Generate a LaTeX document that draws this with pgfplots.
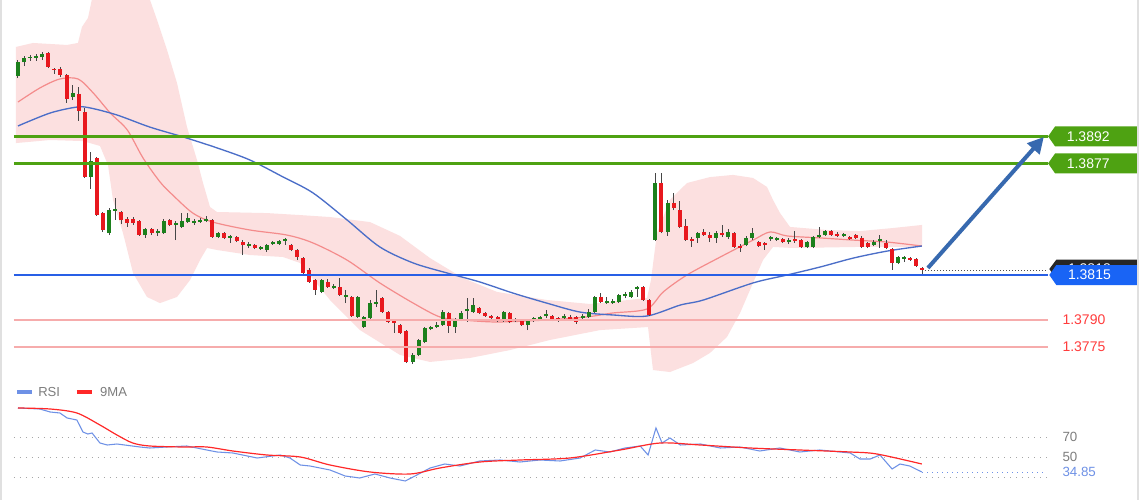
\documentclass[border=0pt]{standalone}
\usepackage{fontspec}
\setmainfont{Liberation Sans}
\usepackage{pgfplots}
\pgfplotsset{compat=1.18}
\usepackage{pgfplotstable}
\usetikzlibrary{arrows.meta}

\definecolor{cgreen}{RGB}{28,128,28}
\definecolor{cred}{RGB}{232,24,30}
\definecolor{wick}{RGB}{70,70,70}
\definecolor{bandpink}{RGB}{252,224,224}
\definecolor{maRed}{RGB}{244,140,140}
\definecolor{maBlue}{RGB}{75,110,200}
\definecolor{lvlGreen}{RGB}{78,162,18}
\definecolor{lvlBlue}{RGB}{40,95,230}
\definecolor{lvlPink}{RGB}{246,172,172}
\definecolor{lblRed}{RGB}{255,60,60}
\definecolor{arrowBlue}{RGB}{55,105,175}
\definecolor{rsiBlue}{RGB}{110,145,230}
\definecolor{rsiRed}{RGB}{255,40,40}
\definecolor{txtGray}{RGB}{125,125,125}
\definecolor{lblBlue}{RGB}{25,100,245}

% candles: index, open, high, low, close (prices)
\pgfplotstableread{
i o h l c
0 1.39256 1.39344 1.39244 1.39333
1 1.39333 1.39367 1.39311 1.39356
2 1.39356 1.39372 1.39339 1.39361
3 1.39356 1.39378 1.39339 1.39367
4 1.39361 1.39389 1.39344 1.39378
5 1.39383 1.39389 1.39300 1.39306
6 1.39294 1.39300 1.39267 1.39289
7 1.39294 1.39306 1.39250 1.39261
8 1.39261 1.39267 1.39106 1.39128
9 1.39139 1.39206 1.39122 1.39161
10 1.39156 1.39194 1.39006 1.39061
11 1.39056 1.39078 1.38689 1.38694
12 1.38694 1.38833 1.38628 1.38783
13 1.38800 1.38806 1.38478 1.38483
14 1.38494 1.38500 1.38389 1.38400
15 1.38383 1.38522 1.38372 1.38511
16 1.38506 1.38578 1.38456 1.38517
17 1.38500 1.38506 1.38433 1.38456
18 1.38461 1.38472 1.38417 1.38439
19 1.38461 1.38472 1.38428 1.38439
20 1.38450 1.38456 1.38367 1.38372
21 1.38372 1.38411 1.38356 1.38406
22 1.38406 1.38411 1.38372 1.38383
23 1.38383 1.38406 1.38367 1.38394
24 1.38383 1.38461 1.38378 1.38450
25 1.38456 1.38461 1.38422 1.38428
26 1.38428 1.38450 1.38344 1.38439
27 1.38417 1.38494 1.38411 1.38450
28 1.38444 1.38494 1.38439 1.38467
29 1.38439 1.38461 1.38428 1.38450
30 1.38444 1.38467 1.38439 1.38456
31 1.38450 1.38478 1.38444 1.38461
32 1.38456 1.38461 1.38356 1.38361
33 1.38361 1.38389 1.38356 1.38383
34 1.38383 1.38389 1.38350 1.38356
35 1.38356 1.38372 1.38328 1.38367
36 1.38361 1.38367 1.38333 1.38339
37 1.38333 1.38344 1.38261 1.38317
38 1.38311 1.38333 1.38300 1.38322
39 1.38317 1.38322 1.38294 1.38300
40 1.38294 1.38311 1.38289 1.38306
41 1.38289 1.38322 1.38278 1.38317
42 1.38322 1.38339 1.38317 1.38333
43 1.38322 1.38344 1.38317 1.38339
44 1.38339 1.38356 1.38317 1.38350
45 1.38317 1.38322 1.38283 1.38289
46 1.38289 1.38294 1.38233 1.38250
47 1.38244 1.38250 1.38150 1.38161
48 1.38178 1.38189 1.38106 1.38111
49 1.38122 1.38128 1.38039 1.38067
50 1.38056 1.38128 1.38050 1.38122
51 1.38111 1.38128 1.38078 1.38083
52 1.38078 1.38100 1.38072 1.38089
53 1.38083 1.38133 1.38033 1.38039
54 1.38028 1.38067 1.37994 1.38039
55 1.38028 1.38033 1.37917 1.37922
56 1.37917 1.38033 1.37911 1.38028
57 1.37861 1.37922 1.37856 1.37917
58 1.37911 1.38011 1.37906 1.37994
59 1.37989 1.38067 1.37972 1.38000
60 1.38022 1.38028 1.37939 1.37944
61 1.37944 1.37950 1.37883 1.37889
62 1.37894 1.37900 1.37828 1.37883
63 1.37872 1.37878 1.37822 1.37828
64 1.37839 1.37844 1.37661 1.37667
65 1.37667 1.37717 1.37656 1.37706
66 1.37706 1.37794 1.37700 1.37789
67 1.37778 1.37861 1.37772 1.37856
68 1.37850 1.37867 1.37844 1.37861
69 1.37861 1.37889 1.37856 1.37872
70 1.37872 1.37956 1.37867 1.37944
71 1.37939 1.37944 1.37828 1.37867
72 1.37861 1.37911 1.37828 1.37900
73 1.37900 1.37950 1.37894 1.37939
74 1.37950 1.38022 1.37889 1.37961
75 1.37944 1.38022 1.37939 1.37983
76 1.37967 1.37972 1.37933 1.37939
77 1.37939 1.37944 1.37917 1.37922
78 1.37922 1.37928 1.37906 1.37911
79 1.37917 1.37922 1.37889 1.37900
80 1.37894 1.37950 1.37889 1.37944
81 1.37939 1.37944 1.37883 1.37889
82 1.37906 1.37911 1.37889 1.37894
83 1.37900 1.37906 1.37867 1.37872
84 1.37872 1.37900 1.37844 1.37894
85 1.37900 1.37917 1.37889 1.37911
86 1.37906 1.37922 1.37900 1.37917
87 1.37922 1.37956 1.37911 1.37933
88 1.37922 1.37928 1.37894 1.37900
89 1.37911 1.37917 1.37889 1.37894
90 1.37911 1.37933 1.37906 1.37922
91 1.37917 1.37928 1.37900 1.37906
92 1.37917 1.37922 1.37878 1.37889
93 1.37911 1.37933 1.37900 1.37922
94 1.37917 1.37961 1.37911 1.37944
95 1.37944 1.38033 1.37939 1.38028
96 1.38028 1.38050 1.37994 1.38000
97 1.37994 1.38028 1.37989 1.38006
98 1.37994 1.38017 1.37989 1.38006
99 1.38000 1.38044 1.37994 1.38039
100 1.38033 1.38056 1.38022 1.38044
101 1.38028 1.38067 1.38022 1.38056
102 1.38072 1.38089 1.38028 1.38083
103 1.38083 1.38089 1.38006 1.38011
104 1.38011 1.38017 1.37922 1.37928
105 1.38344 1.38717 1.38339 1.38661
106 1.38661 1.38717 1.38383 1.38389
107 1.38389 1.38567 1.38367 1.38550
108 1.38550 1.38606 1.38511 1.38522
109 1.38511 1.38561 1.38411 1.38417
110 1.38422 1.38461 1.38339 1.38344
111 1.38350 1.38361 1.38306 1.38339
112 1.38356 1.38389 1.38328 1.38383
113 1.38389 1.38406 1.38367 1.38372
114 1.38372 1.38389 1.38333 1.38356
115 1.38356 1.38394 1.38328 1.38383
116 1.38383 1.38428 1.38361 1.38372
117 1.38361 1.38406 1.38350 1.38389
118 1.38383 1.38389 1.38300 1.38306
119 1.38311 1.38322 1.38278 1.38300
120 1.38317 1.38367 1.38311 1.38356
121 1.38356 1.38411 1.38344 1.38383
122 1.38333 1.38339 1.38306 1.38311
123 1.38328 1.38333 1.38289 1.38317
124 1.38350 1.38367 1.38339 1.38361
125 1.38344 1.38361 1.38339 1.38356
126 1.38350 1.38356 1.38328 1.38333
127 1.38333 1.38356 1.38322 1.38344
128 1.38350 1.38394 1.38328 1.38339
129 1.38344 1.38350 1.38300 1.38306
130 1.38306 1.38339 1.38300 1.38333
131 1.38306 1.38367 1.38300 1.38361
132 1.38361 1.38417 1.38356 1.38372
133 1.38372 1.38400 1.38367 1.38394
134 1.38394 1.38400 1.38367 1.38372
135 1.38378 1.38389 1.38361 1.38367
136 1.38367 1.38383 1.38361 1.38378
137 1.38361 1.38367 1.38344 1.38350
138 1.38372 1.38378 1.38350 1.38356
139 1.38356 1.38367 1.38300 1.38306
140 1.38328 1.38333 1.38300 1.38306
141 1.38317 1.38344 1.38311 1.38333
142 1.38339 1.38372 1.38300 1.38350
143 1.38328 1.38344 1.38294 1.38300
144 1.38294 1.38300 1.38178 1.38217
145 1.38217 1.38256 1.38211 1.38250
146 1.38239 1.38256 1.38222 1.38250
147 1.38244 1.38250 1.38228 1.38233
148 1.38239 1.38244 1.38194 1.38200
149 1.38189 1.38194 1.38150 1.38178
}\candles

\begin{document}
\begin{tikzpicture}
\fill[white] (0,0) rectangle (855pt,375pt);
\path[use as bounding box] (0,0) rectangle (855pt,375pt);

% ---------------- main price panel (plotted as pips above 1.3800) ----------------
\begin{axis}[at={(0pt,91.5pt)}, anchor=south west, scale only axis,
  width=855pt, height=283.5pt,
  xmin=-2.965, xmax=184.84, ymin=-42.22, ymax=167.78,
  y filter/.expression={(y-1.38)*10000},
  axis lines=none, enlargelimits=false]

% envelope band (upper edge left to right, then lower edge right to left)
\addplot[fill=bandpink, draw=none, forget plot] coordinates {
(-0.33,1.39417) (2.47,1.39439) (8.07,1.39428) (9.88,1.39439) (10.54,1.39528) (11.53,1.39578)
(12.85,1.39789) (20.59,1.39789) (21.75,1.39678) (22.9,1.39567) (24.55,1.39400) (26.19,1.39217)
(27.84,1.38972) (29.49,1.38789) (30.48,1.38661) (31.63,1.38528) (32.78,1.38500) (41.02,1.38494)
(46.46,1.38483) (51.4,1.38472) (57.99,1.38444) (62.93,1.38367) (67.87,1.38244) (73.31,1.38133)
(78.91,1.38056) (87.15,1.38011) (94.23,1.37989) (103.62,1.38022) (104.28,1.38122)
(105.27,1.38383) (107.41,1.38567) (110.21,1.38661) (114,1.38694) (117.79,1.38706)
(121.09,1.38689) (123.39,1.38639) (124.38,1.38567) (125.54,1.38494) (127.18,1.38417)
(133.28,1.38400) (138.71,1.38394) (144.15,1.38411) (148.93,1.38428)
(148.93,1.38306) (138.71,1.38306) (127.68,1.38300) (124.38,1.38306) (122.73,1.38233)
(121.09,1.38106) (118.95,1.37939) (116.8,1.37806) (114,1.37717) (111.2,1.37661)
(107.41,1.37611) (104.61,1.37622) (103.79,1.37861) (95.88,1.37844) (87.64,1.37789)
(81.05,1.37733) (74.46,1.37689) (67.87,1.37667) (62.93,1.37706) (56.34,1.37844)
(51.4,1.38011) (46.46,1.38217) (43.66,1.38250) (38.22,1.38261) (32.78,1.38289)
(31.14,1.38300) (29.98,1.38233) (28.34,1.38122) (26.19,1.38028) (23.39,1.37994)
(21.25,1.38028) (18.95,1.38161) (17.3,1.38383) (15.65,1.38567) (14.83,1.38761)
(13.51,1.38867) (10.71,1.38894) (5.27,1.38900) (-0.33,1.38883)};

% moving averages
\addplot[maRed, line width=0.9pt, smooth, forget plot] coordinates {
(0,1.39111) (3.6,1.39189) (6.9,1.39239) (9.9,1.39239) (12.4,1.39161) (15.2,1.39050)
(18,1.38956) (20.6,1.38800) (23.4,1.38667) (25.5,1.38594) (28.8,1.38494) (32.1,1.38444)
(38.2,1.38400) (44.3,1.38372) (48.6,1.38328) (54.2,1.38233) (59.6,1.38106) (65.1,1.37994)
(69.5,1.37917) (73.3,1.37900) (78.9,1.37889) (87.1,1.37900) (93.7,1.37917) (98,1.37939)
(103.6,1.37961) (106.3,1.38056) (110.2,1.38150) (115.7,1.38250) (121.1,1.38344)
(123.9,1.38389) (126.7,1.38367) (132.1,1.38356) (137.6,1.38344) (143.2,1.38333)
(148.9,1.38311)};
\addplot[maBlue, line width=1pt, smooth, forget plot] coordinates {
(0,1.38978) (5.3,1.39050) (9.7,1.39083) (11.9,1.39078) (16.3,1.39039) (21.7,1.38972)
(27.2,1.38917) (32.8,1.38856) (38.2,1.38789) (43.7,1.38694) (48.6,1.38606) (54.2,1.38456)
(59.6,1.38306) (65.1,1.38217) (70.7,1.38161) (76.1,1.38111) (81.5,1.38050) (87.1,1.37994)
(92.6,1.37944) (98,1.37928) (103.6,1.37922) (109.1,1.37983) (112.9,1.38011)
(121.1,1.38106) (126.7,1.38150) (132.1,1.38194) (137.6,1.38244) (143.2,1.38283)
(148.9,1.38311)};

% candles, one wick and one body per row of the table
\pgfplotsforeachungrouped \k in {0,...,149}{%
  \pgfplotstablegetelem{\k}{o}\of\candles \let\vo\pgfplotsretval
  \pgfplotstablegetelem{\k}{h}\of\candles \let\vh\pgfplotsretval
  \pgfplotstablegetelem{\k}{l}\of\candles \let\vl\pgfplotsretval
  \pgfplotstablegetelem{\k}{c}\of\candles \let\vc\pgfplotsretval
  \ifdim\vc pt<\vo pt \def\bodycol{cred}\else\def\bodycol{cgreen}\fi
  \edef\cmd{\noexpand\addplot[wick, line width=0.75pt, forget plot] coordinates {(\k,\vl) (\k,\vh)};
    \noexpand\addplot[\bodycol, line width=3pt, line cap=butt, forget plot] coordinates {(\k,\vo) (\k,\vc)};}%
  \cmd
}

% levels
\addplot[lvlGreen, line width=2.2pt, forget plot] coordinates {(-0.66,1.3892) (169.7,1.3892)};
\addplot[lvlGreen, line width=2.2pt, forget plot] coordinates {(-0.66,1.3877) (169.7,1.3877)};
\addplot[lvlBlue, line width=1.1pt, forget plot] coordinates {(-0.66,1.3815) (169.7,1.3815)};
\addplot[lvlPink, line width=1.4pt, forget plot] coordinates {(-0.66,1.3790) (169.7,1.3790)};
\addplot[lvlPink, line width=1.4pt, forget plot] coordinates {(-0.66,1.3775) (169.7,1.3775)};
\addplot[black!70, line width=0.6pt, dash pattern=on 0.75pt off 1.5pt, forget plot] coordinates {(149.5,1.38178) (169.7,1.38178)};

% arrow
\draw[arrowBlue, line width=3pt, -{Triangle[length=12pt,width=12pt]}]
  (axis cs:149.9,18.9) -- (axis cs:169.0,91.7);

% right labels
\fill[lvlGreen] (axis cs:169.7,92) -- ++(5.25pt,7.5pt) -- ++(61.5pt,0pt) -- ++(0pt,-15pt) -- ++(-61.5pt,0pt) -- cycle;
\node[anchor=west, xshift=10.5pt, text=white, font=\fontsize{10.5pt}{12pt}\selectfont] at (axis cs:169.7,92) {1.3892};
\fill[lvlGreen] (axis cs:169.7,77) -- ++(5.25pt,7.5pt) -- ++(61.5pt,0pt) -- ++(0pt,-15pt) -- ++(-61.5pt,0pt) -- cycle;
\node[anchor=west, xshift=10.5pt, text=white, font=\fontsize{10.5pt}{12pt}\selectfont] at (axis cs:169.7,77) {1.3877};
\fill[black!85] (axis cs:169.9,18.3) -- ++(5.25pt,7pt) -- ++(61.5pt,0pt) -- ++(0pt,-14pt) -- ++(-61.5pt,0pt) -- cycle;
\node[anchor=west, xshift=10.5pt, text=white, font=\fontsize{10.5pt}{12pt}\selectfont] at (axis cs:169.9,18.3) {1.3818};
\fill[lblBlue] (axis cs:169.9,15) -- ++(5.25pt,7.5pt) -- ++(61.5pt,0pt) -- ++(0pt,-15pt) -- ++(-61.5pt,0pt) -- cycle;
\node[anchor=west, xshift=10.5pt, text=white, font=\fontsize{10.5pt}{12pt}\selectfont] at (axis cs:169.9,15) {1.3815};
\node[anchor=west, text=lblRed, font=\fontsize{10.5pt}{12pt}\selectfont] at (axis cs:171.3,-10) {1.3790};
\node[anchor=west, text=lblRed, font=\fontsize{10.5pt}{12pt}\selectfont] at (axis cs:171.3,-25) {1.3775};
\end{axis}

% ---------------- RSI panel ----------------
\begin{axis}[at={(0pt,0pt)}, anchor=south west, scale only axis,
  width=855pt, height=91.5pt,
  xmin=-2.965, xmax=184.84, ymin=7, ymax=129,
  axis lines=none, enlargelimits=false]
\addplot[black!35, line width=0.6pt, dash pattern=on 0.75pt off 3.75pt, forget plot] coordinates {(-0.66,70) (169.5,70)};
\addplot[black!35, line width=0.6pt, dash pattern=on 0.75pt off 3.75pt, forget plot] coordinates {(-0.66,50) (169.5,50)};
\addplot[black!35, line width=0.6pt, dash pattern=on 0.75pt off 3.75pt, forget plot] coordinates {(-0.66,30) (169.5,30)};
\addplot[rsiBlue, line width=0.7pt, dash pattern=on 0.75pt off 3pt, forget plot] coordinates {(149,35) (169.5,35)};

\addplot[rsiBlue, line width=0.8pt, forget plot] coordinates {
(0,99) (3.6,98) (5.3,95) (6.9,94) (8.1,89) (9.7,87) (10.7,75) (11.5,73) (12.2,74)
(13.5,64) (14.7,62) (16.3,63) (20.1,60) (21.7,59) (24.5,60) (27.8,61) (31.1,57)
(32.8,55) (35.4,54) (39.4,49) (43.2,52) (44.8,49) (46.5,42) (48.1,41) (51.4,37)
(53.9,31) (56.3,29) (58.8,33) (61.3,29) (63.8,26) (65.4,31) (67.9,39) (70.3,43)
(72.8,41) (76.1,46) (79.4,47) (82.7,45) (86,47) (89.3,46) (92.6,49) (95.1,57)
(97.5,55) (100,59) (102.5,61) (103.8,52) (105.1,79) (106.1,64) (107.4,69) (109.1,62)
(112.4,63) (115.7,59) (118.9,60) (122.2,56) (125.5,59) (128.8,55) (132.1,57)
(135.4,55) (137.1,54) (138.7,48) (140.4,48) (142,52) (144,38) (145.3,43) (146.9,41)
(148.9,35)};
\addplot[rsiRed, line width=0.9pt, smooth, forget plot] coordinates {
(0,99) (5.3,98) (9.7,94) (13.5,82) (16.3,72) (18.9,64) (21.7,61) (27.2,60) (31.1,60)
(35.4,56) (41,52) (46.5,50) (51.4,42) (58,35) (64.6,33) (69.5,39) (76.1,45) (82.7,47)
(90.9,49) (99.2,57) (105.8,64) (112.4,62) (120.6,59) (128.8,57) (137.1,55) (141.5,53)
(148.9,43)};

\node[anchor=west, text=txtGray, font=\fontsize{10pt}{12pt}\selectfont] at (axis cs:171.3,70) {70};
\node[anchor=west, text=txtGray, font=\fontsize{10pt}{12pt}\selectfont] at (axis cs:171.3,50) {50};
\node[anchor=west, text=rsiBlue, font=\fontsize{10pt}{12pt}\selectfont] at (axis cs:171.3,35) {34.85};

\draw[rsiBlue, line width=3.2pt] (axis cs:-0.16,115) -- (axis cs:2.31,115);
\node[anchor=west, text=txtGray, font=\fontsize{9.8pt}{11pt}\selectfont, inner sep=0pt] at (axis cs:3.3,115) {RSI};
\draw[rsiRed, line width=3.2pt] (axis cs:9.7,115) -- (axis cs:12.2,115);
\node[anchor=west, text=txtGray, font=\fontsize{9.8pt}{11pt}\selectfont, inner sep=0pt] at (axis cs:13.5,115) {9MA};
\end{axis}

\draw[black!12, line width=1pt] (0.75pt,0) -- (0.75pt,375pt);
\draw[black!12, line width=1pt] (853.5pt,0) -- (853.5pt,375pt);
\end{tikzpicture}
\end{document}
